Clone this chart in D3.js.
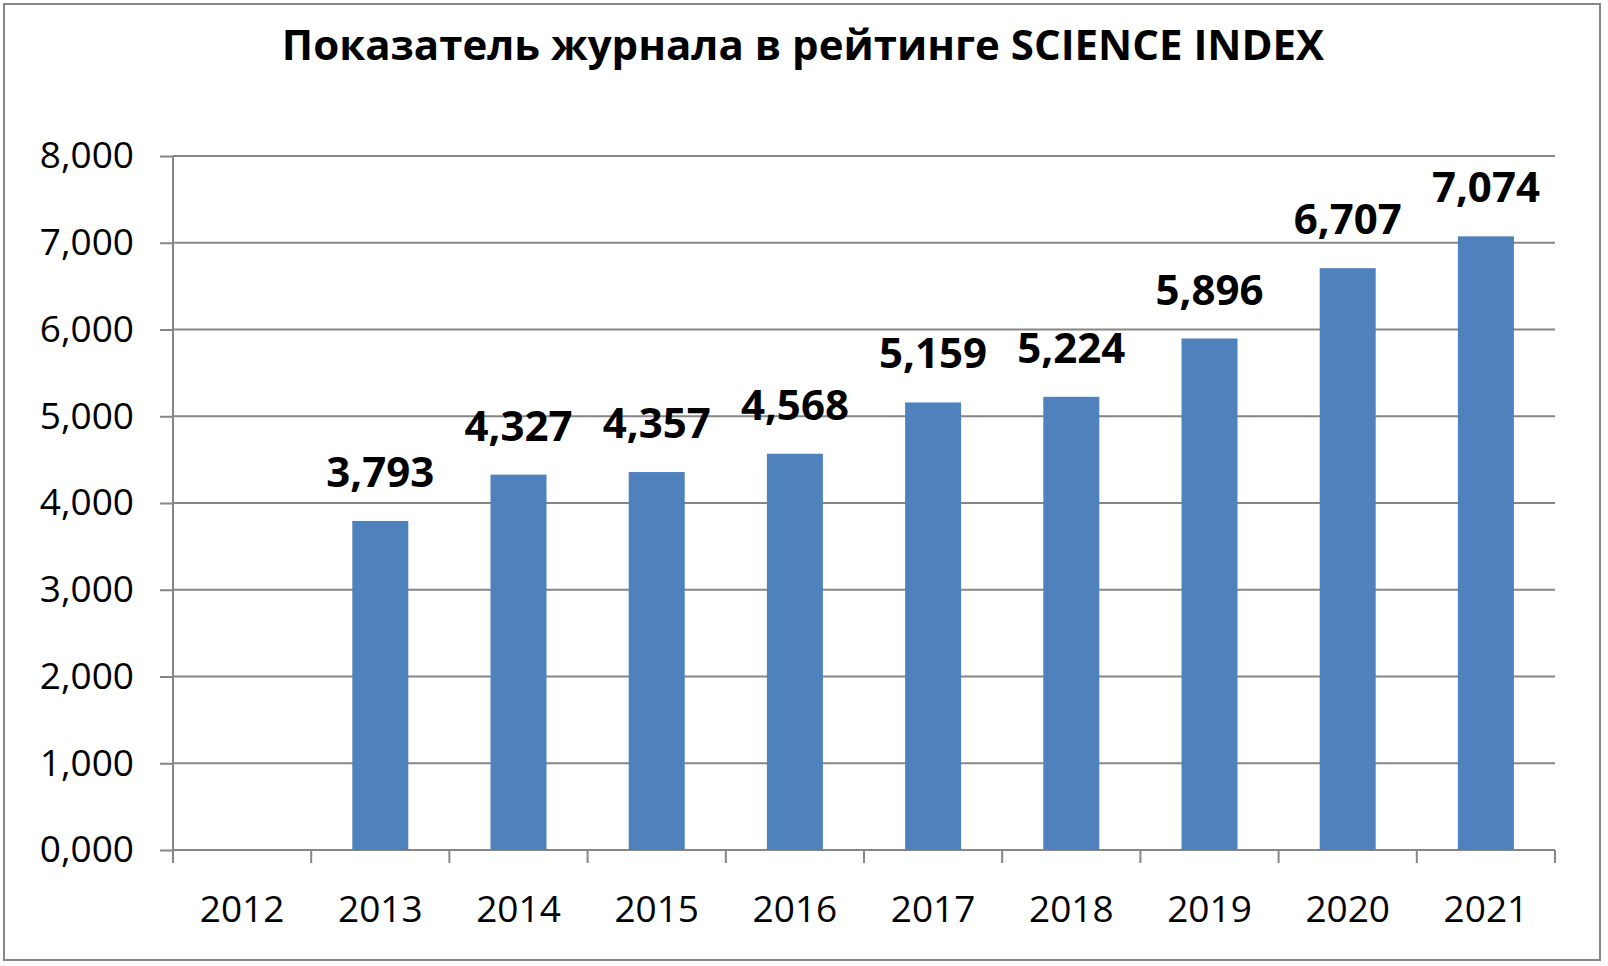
<!DOCTYPE html>
<html><head><meta charset="utf-8">
<script src="https://cdn.jsdelivr.net/npm/d3@7"></script>
<style>body{margin:0;background:#fff}svg{display:block}</style>
</head><body>
<svg width="1608" height="966"></svg>
<script>
var years = ['2012','2013','2014','2015','2016','2017','2018','2019','2020','2021']
var values = [null, 3.793, 4.327, 4.357, 4.568, 5.159, 5.224, 5.896, 6.707, 7.074]
var yTicks = [0, 1, 2, 3, 4, 5, 6, 7, 8]
var title = 'Показатель журнала в рейтинге SCIENCE INDEX'

var svg = d3.select('svg')
var font = '"Open Sans", "Noto Sans", sans-serif'
var fmt = function (v) { return v.toFixed(3).replace('.', ',') }

var L = 173, R = 1555, T = 156, B = 850

svg.append('rect')
    .attr('x', 4).attr('y', 4).attr('width', 1596).attr('height', 956)
    .style('fill', 'none').style('stroke', '#868686').style('stroke-width', 2)

var x = d3.scaleBand().domain(years).range([L, R])
var y = d3.scaleLinear().domain([0, 8]).range([B, T])

svg.append('g').selectAll('line').data(yTicks.slice(1)).enter().append('line')
    .attr('x1', L).attr('x2', R)
    .attr('y1', d => y(d)).attr('y2', d => y(d))
    .style('stroke', '#868686').style('stroke-width', 2)

var yAxis = svg.append('g')
    .attr('transform', 'translate(' + L + ',0)')
    .call(d3.axisLeft(y).tickValues(yTicks).tickFormat(fmt).tickSize(13).tickPadding(26))
yAxis.select('.domain').style('stroke', '#868686').style('stroke-width', 2).attr('d', 'M0,' + T + 'V' + B)
yAxis.selectAll('line').style('stroke', '#868686').style('stroke-width', 2)
yAxis.selectAll('text').style('font-family', font).style('font-size', '37px').style('fill', '#000')

var xAxis = svg.append('g').attr('transform', 'translate(0,' + B + ')')
xAxis.append('line').attr('x1', L).attr('x2', R)
    .style('stroke', '#868686').style('stroke-width', 2)
xAxis.selectAll('.tk').data(d3.range(years.length + 1)).enter().append('line')
    .attr('x1', i => L + i * x.step()).attr('x2', i => L + i * x.step())
    .attr('y1', 0).attr('y2', 13)
    .style('stroke', '#868686').style('stroke-width', 2)
xAxis.selectAll('text').data(years).enter().append('text')
    .attr('x', d => x(d) + x.bandwidth() / 2).attr('y', 72)
    .attr('text-anchor', 'middle')
    .style('font-family', font).style('font-size', '37px')
    .text(d => d)

var data = years.map((d, i) => ({ year: d, v: values[i] })).filter(d => d.v != null)
var bw = 56

svg.selectAll('.bar').data(data).enter().append('rect')
    .attr('x', d => x(d.year) + x.bandwidth() / 2 - bw / 2)
    .attr('y', d => y(d.v))
    .attr('width', bw)
    .attr('height', d => y(0) - y(d.v))
    .style('fill', '#4f81bd')

svg.selectAll('.lbl').data(data).enter().append('text')
    .attr('x', d => x(d.year) + x.bandwidth() / 2)
    .attr('y', d => y(d.v) - 34)
    .attr('text-anchor', 'middle')
    .style('font-family', font).style('font-size', '42px').style('font-weight', 'bold')
    .text(d => fmt(d.v))

svg.append('text')
    .attr('x', 803).attr('y', 60)
    .attr('text-anchor', 'middle')
    .style('font-family', font).style('font-size', '42px').style('font-weight', 'bold')
    .text(title)
</script>
</body></html>
